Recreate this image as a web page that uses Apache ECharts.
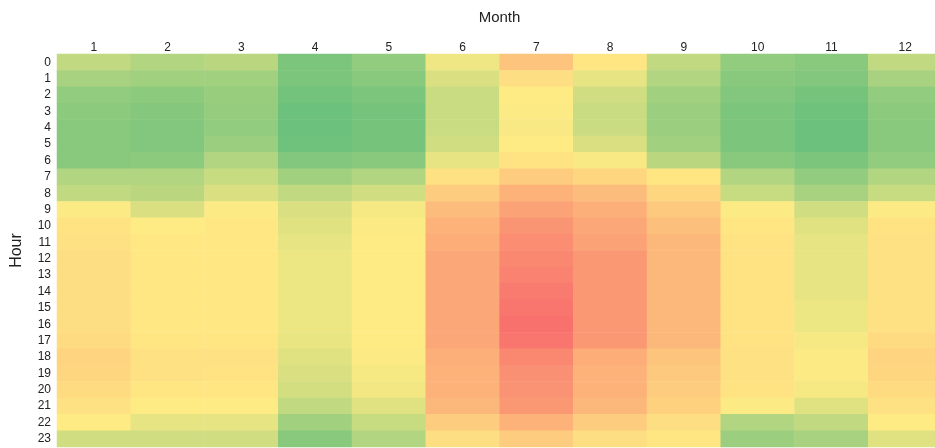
<!DOCTYPE html>
<html>
<head>
<meta charset="utf-8">
<script src="https://cdn.jsdelivr.net/npm/echarts@6/dist/echarts.min.js"></script>
<style>
  html, body { margin: 0; padding: 0; background: #fff; }
  #chart { width: 935px; height: 448px; }
</style>
</head>
<body>
<div id="chart"></div>
<script>
// Month columns and hour rows
const months = ['1', '2', '3', '4', '5', '6', '7', '8', '9', '10', '11', '12'];
const hours = ['0','1','2','3','4','5','6','7','8','9','10','11','12','13','14','15','16','17','18','19','20','21','22','23'];

// Relative load per hour (index 0..23) for each month
const m1  = [30,22,15,13,12,12,12,25,30,49,53,54,55,55,55,55,55,56,59,58,56,54,50,35];
const m2  = [25,20,13,11,10,10,13,25,28,38,50,51,51,51,51,51,51,52,54,54,52,50,42,35];
const m3  = [28,20,17,16,15,18,25,32,38,49,51,51,51,51,51,51,51,52,54,53,52,50,42,35];
const m4  = [8,8,5,3,3,4,10,20,30,38,40,42,44,44,44,44,44,43,40,38,36,30,20,12];
const m5  = [15,12,8,6,6,6,12,25,35,47,49,50,50,50,50,50,50,50,49,47,46,40,32,25];
const m6  = [45,38,33,33,33,35,42,54,62,68,72,74,76,76,76,76,76,76,73,72,72,70,62,55];
const m7  = [65,55,50,49,48,50,53,62,72,78,83,86,88,90,93,95,97,95,88,85,84,82,72,62];
const m8  = [52,42,35,33,33,38,48,58,68,73,76,78,82,82,82,82,82,82,74,72,72,70,62,55];
const m9  = [30,25,20,18,18,20,28,52,58,63,67,70,70,70,70,70,70,70,65,63,62,60,55,52];
const m10 = [15,12,10,8,8,8,12,25,32,49,52,53,53,53,53,53,53,53,54,54,53,49,25,18];
const m11 = [12,10,6,4,3,3,8,15,22,35,40,42,42,42,42,44,44,47,49,49,47,40,30,22];
const m12 = [30,22,15,13,12,12,15,25,32,49,53,54,54,54,54,54,54,56,59,58,56,54,50,40];

const byMonth = [m1, m2, m3, m4, m5, m6, m7, m8, m9, m10, m11, m12];

// Heatmap triples: [monthIndex, hourIndex, value]
const cells = [];
byMonth.forEach((col, mi) => {
  col.forEach((v, hi) => cells.push([mi, hi, v]));
});

const chart = echarts.init(document.getElementById('chart'), null, { renderer: 'canvas' });
const font = '"Liberation Sans", Arial, sans-serif';

chart.setOption({
  animation: false,
  backgroundColor: '#ffffff',
  grid: { left: 57, right: -7, top: 54, bottom: 1, outerBoundsMode: 'none', containLabel: false },
  xAxis: {
    type: 'category',
    data: months,
    position: 'top',
    name: 'Month',
    nameLocation: 'middle',
    nameGap: 29,
    nameTextStyle: { fontFamily: font, fontSize: 15, color: '#222' },
    axisLine: { show: false },
    axisTick: { show: false },
    splitLine: { show: false },
    axisLabel: { fontFamily: font, fontSize: 12, color: '#222', margin: 0 }
  },
  yAxis: {
    type: 'category',
    data: hours,
    inverse: true,
    name: 'Hour',
    nameLocation: 'middle',
    nameGap: 32,
    nameTextStyle: { fontFamily: font, fontSize: 16, color: '#222' },
    axisLine: { show: false },
    axisTick: { show: false },
    splitLine: { show: false },
    axisLabel: { fontFamily: font, fontSize: 12, color: '#222', margin: 6, interval: 0 }
  },
  visualMap: {
    show: false,
    min: 0,
    max: 100,
    calculable: false,
    inRange: { color: ['#63BE7B', '#FFEB84', '#F8696B'] }
  },
  series: [{
    type: 'heatmap',
    data: cells,
    itemStyle: { borderWidth: 0 },
    emphasis: { disabled: true }
  }]
});
</script>
</body>
</html>
